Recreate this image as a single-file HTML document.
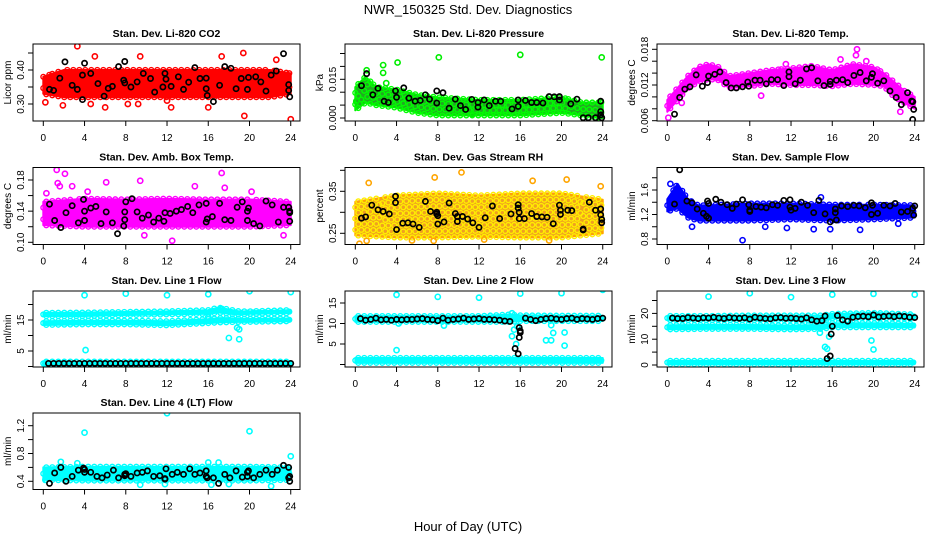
<!DOCTYPE html>
<html><head><meta charset="utf-8">
<style>
html,body{margin:0;padding:0;background:#fff;}
svg{display:block;font-family:"Liberation Sans",sans-serif;}
</style></head>
<body>
<svg id="chart" width="936" height="540" viewBox="0 0 936 540" xmlns="http://www.w3.org/2000/svg">
<rect x="0" y="0" width="936" height="540" fill="#fff"/>
<text x="468" y="14" text-anchor="middle" font-size="13">NWR_150325  Std. Dev. Diagnostics</text>
<text x="468" y="531" text-anchor="middle" font-size="13">Hour of Day (UTC)</text>
</svg>
<script>
// ---------- data ----------
const xTicks = [0,4,8,12,16,20,24];

const co2BandH = [0,2,4,6,8,10,12,14,16,18,20,22,24];
const co2Lo = [0.33,0.32,0.32,0.32,0.32,0.32,0.32,0.32,0.32,0.32,0.32,0.32,0.33];
const co2Hi = [0.38,0.40,0.40,0.40,0.40,0.40,0.40,0.40,0.40,0.40,0.40,0.40,0.39];
const co2Out = [[3.3,0.47],[1.9,0.296],[5,0.44],[6,0.29],[9.2,0.30],[9.4,0.44],[12.4,0.29],[16,0.29],[17.3,0.44],[19.4,0.45],[19.5,0.265],[24,0.255],[22.6,0.43],[12,0.31],[8.2,0.30],[4.6,0.30],[0.2,0.305]];
const co2Blk = [[0.6,0.343],[1.0,0.34],[1.6,0.376],[2.1,0.424],[2.8,0.355],[3.3,0.343],[3.8,0.313],[3.8,0.385],[4.0,0.42],[4.6,0.39],[5.3,0.36],[5.9,0.323],[6.3,0.346],[6.7,0.352],[7.3,0.41],[7.8,0.37],[7.9,0.425],[7.9,0.362],[8.5,0.35],[9.1,0.365],[9.7,0.39],[10.4,0.375],[10.8,0.335],[11.6,0.35],[11.8,0.39],[11.9,0.373],[12.4,0.352],[13.1,0.38],[13.6,0.343],[14.1,0.364],[14.7,0.407],[15.2,0.375],[15.8,0.345],[15.8,0.376],[15.9,0.325],[16.5,0.307],[17.1,0.355],[17.6,0.41],[18.2,0.405],[18.7,0.345],[19.2,0.375],[19.8,0.343],[19.9,0.378],[20.6,0.38],[21.1,0.365],[21.6,0.338],[22.1,0.385],[22.6,0.397],[23.3,0.448],[23.8,0.357],[23.8,0.34],[23.9,0.321]];

const presBandH = [0,1,2,4,6,8,12,16,20,22,24];
const presLo = [0.003,0.006,0.005,0.004,0.002,0.001,0.001,0.001,0.002,0.001,0.000];
const presHi = [0.012,0.016,0.012,0.011,0.009,0.008,0.007,0.007,0.008,0.006,0.006];
const presOut = [[1.1,0.0185],[2.7,0.0205],[2.7,0.0175],[3.0,0.0135],[4.1,0.0215],[8.1,0.0235],[16.0,0.0245],[23.9,0.0235],[11.3,0.0015],[0.1,0.0065]];
const presBlk = [[0.6,0.0125],[1.1,0.0172],[1.7,0.009],[2.2,0.0115],[2.8,0.0065],[3.2,0.006],[3.9,0.0105],[4.0,0.008],[4.7,0.0117],[5.2,0.0077],[5.8,0.0065],[6.3,0.0068],[6.8,0.009],[7.2,0.0073],[7.9,0.0105],[7.9,0.0058],[8.5,0.0098],[9.1,0.0038],[9.7,0.0073],[10.2,0.0048],[10.7,0.0033],[11.3,0.0072],[11.9,0.006],[11.9,0.0042],[12.5,0.007],[13.0,0.0048],[13.6,0.0065],[14.1,0.0065],[15.2,0.0035],[15.8,0.007],[15.8,0.0045],[16.5,0.0068],[17.1,0.006],[17.6,0.006],[18.2,0.0058],[18.8,0.0083],[19.3,0.0082],[19.8,0.0083],[19.8,0.007],[20.9,0.0055],[21.5,0.0073],[22.1,0.0001],[22.6,0.0001],[23.3,0.0001],[23.8,0.0065],[23.8,0.0025],[23.9,0.0001],[23.8,0.0012]];

const tempBandH = [0,1,2,3,4,5,6,8,10,12,14,16,18,20,21,22,23,24];
const tempLo = [0.0075,0.0095,0.0115,0.0125,0.0130,0.0128,0.0115,0.0118,0.0122,0.0120,0.0120,0.0118,0.0122,0.0120,0.0118,0.0100,0.0090,0.0080];
const tempHi = [0.0095,0.0115,0.0135,0.0150,0.0155,0.0150,0.0135,0.0140,0.0145,0.0148,0.0152,0.0145,0.0155,0.0150,0.0140,0.0125,0.0110,0.0100];
const tempOut = [[0.1,0.0065],[11.5,0.0155],[16.8,0.0163],[18.3,0.0170],[18.4,0.0180],[19.3,0.0160],[22.6,0.0075],[9.1,0.0102],[1.4,0.0090]];
const tempBlk = [[0.7,0.0071],[1.2,0.0099],[1.7,0.0113],[2.2,0.0117],[2.8,0.0137],[3.4,0.0118],[3.9,0.0124],[4.0,0.0135],[4.6,0.0138],[5.1,0.0142],[5.7,0.0124],[6.2,0.0115],[6.7,0.0115],[7.3,0.0117],[7.8,0.0125],[7.9,0.0118],[8.5,0.0128],[9.0,0.0128],[9.6,0.0122],[10.1,0.0129],[10.7,0.0129],[11.3,0.0119],[11.8,0.0134],[11.8,0.0142],[12.4,0.0122],[12.9,0.0128],[13.5,0.0147],[14.0,0.0149],[14.6,0.0127],[15.2,0.0119],[15.8,0.0121],[15.8,0.0126],[16.4,0.0128],[17.0,0.0129],[17.5,0.0124],[18.1,0.0136],[18.7,0.0141],[19.3,0.0127],[19.8,0.0133],[19.9,0.0139],[20.4,0.0123],[21.0,0.0127],[21.6,0.0110],[22.2,0.0099],[22.7,0.0087],[23.3,0.0107],[23.7,0.0093],[23.8,0.0092],[23.9,0.0079],[23.8,0.0062]];

const ambBandH = [0,4,8,12,16,20,24];
const ambLo = [0.122,0.120,0.120,0.120,0.120,0.120,0.122];
const ambHi = [0.152,0.156,0.155,0.156,0.155,0.155,0.152];
const ambOut = [[1.3,0.193],[2.1,0.188],[1.4,0.176],[1.6,0.172],[2.8,0.172],[6.1,0.177],[9.4,0.179],[9.8,0.109],[12.5,0.102],[17.3,0.189],[23.3,0.109],[14.7,0.172],[17.6,0.170],[0.3,0.163],[4.3,0.165],[20.2,0.165]];
const ambBlk = [[0.6,0.149],[1.1,0.128],[1.7,0.119],[2.2,0.138],[2.8,0.147],[3.4,0.125],[3.9,0.155],[4.0,0.140],[4.0,0.128],[4.6,0.144],[5.1,0.146],[5.6,0.124],[6.1,0.139],[6.7,0.125],[7.2,0.111],[7.8,0.121],[7.9,0.129],[7.9,0.139],[8.0,0.152],[8.6,0.156],[9.1,0.139],[9.6,0.131],[10.2,0.135],[10.7,0.126],[11.2,0.131],[11.7,0.127],[11.8,0.138],[12.3,0.137],[12.9,0.140],[13.4,0.142],[14.0,0.146],[14.5,0.138],[15.1,0.148],[15.8,0.150],[15.9,0.130],[15.8,0.126],[16.4,0.133],[17.1,0.150],[17.6,0.129],[18.2,0.128],[18.8,0.145],[19.3,0.152],[19.8,0.140],[19.8,0.128],[19.9,0.144],[20.4,0.124],[21.0,0.121],[21.6,0.153],[22.2,0.148],[22.8,0.126],[23.3,0.145],[23.8,0.145],[23.9,0.140],[23.9,0.138],[23.9,0.127]];

const rhBandH = [0,4,8,12,16,20,24];
const rhLo = [0.245,0.240,0.240,0.242,0.240,0.240,0.250];
const rhHi = [0.325,0.340,0.345,0.340,0.345,0.345,0.330];
const rhOut = [[1.3,0.370],[7.7,0.383],[10.3,0.395],[17.2,0.375],[20.5,0.378],[7.6,0.232],[5.5,0.233],[12.5,0.235],[18.8,0.233],[23.8,0.362],[0.4,0.225],[1.1,0.232]];
const rhBlk = [[0.6,0.286],[1.0,0.289],[1.6,0.317],[2.2,0.306],[2.7,0.302],[3.3,0.296],[3.9,0.338],[3.9,0.323],[4.0,0.259],[4.6,0.274],[5.1,0.275],[5.6,0.272],[6.2,0.264],[6.8,0.326],[7.3,0.302],[7.9,0.300],[7.9,0.296],[8.0,0.292],[8.0,0.272],[8.6,0.277],[9.1,0.322],[9.7,0.297],[9.9,0.290],[9.9,0.278],[10.4,0.290],[10.9,0.284],[11.4,0.275],[12.0,0.264],[12.6,0.287],[13.3,0.315],[14.0,0.285],[15.1,0.296],[15.8,0.318],[15.8,0.310],[15.9,0.300],[15.9,0.285],[16.4,0.285],[17.1,0.297],[17.6,0.290],[18.1,0.289],[18.6,0.288],[19.2,0.273],[19.8,0.317],[19.9,0.305],[19.9,0.295],[20.6,0.305],[21.0,0.304],[22.1,0.260],[22.1,0.258],[22.7,0.324],[23.3,0.305],[23.8,0.308],[23.8,0.294],[23.9,0.283],[23.9,0.275]];

const sfBandH = [0,1,2,3,4,8,12,16,20,24];
const sfLo = [1.25,1.30,1.15,1.10,1.10,1.10,1.12,1.10,1.12,1.15];
const sfHi = [1.45,1.70,1.45,1.35,1.35,1.38,1.38,1.36,1.36,1.35];
const sfOut = [[0.3,1.70],[7.3,0.78],[2.4,1.00],[11.6,0.98],[14.9,1.48],[18.7,0.95],[22.4,1.05],[14.2,0.96],[15.8,0.96],[9.5,1.00]];
const sfBlk = [[0.7,1.37],[1.2,1.93],[1.9,1.42],[2.4,1.39],[2.9,1.29],[3.5,1.22],[3.8,1.17],[4.0,1.14],[3.9,1.42],[4.0,1.38],[4.7,1.45],[5.2,1.40],[5.8,1.36],[6.3,1.30],[6.7,1.37],[7.3,1.44],[7.9,1.36],[8.0,1.27],[8.0,1.25],[8.6,1.33],[9.1,1.32],[9.6,1.31],[10.2,1.36],[10.7,1.35],[11.3,1.43],[11.9,1.44],[11.9,1.32],[12.0,1.27],[12.4,1.30],[13.0,1.40],[13.6,1.35],[14.2,1.23],[14.7,1.43],[15.3,1.21],[15.8,1.08],[16.4,1.11],[16.3,1.23],[16.3,1.29],[16.9,1.34],[17.5,1.33],[18.1,1.35],[18.6,1.34],[19.2,1.31],[19.8,1.39],[19.9,1.35],[19.8,1.20],[20.4,1.22],[21.0,1.35],[21.6,1.34],[22.1,1.38],[22.7,1.24],[23.3,1.25],[23.8,1.30],[23.9,1.19],[24.0,1.34]];

const l1BandH = [0,4,8,12,16,17,18,19,20,24];
const l1UpLo = [16.3,16.3,16.6,16.8,17.0,17.4,17.0,16.8,17.0,17.2];
const l1UpHi = [17.3,17.4,17.6,17.8,18.2,19.0,18.4,17.8,17.8,18.2];
const l1MdLo = [13.4,13.6,13.6,13.3,14.0,14.2,14.3,14.4,14.4,14.6];
const l1MdHi = [14.6,14.8,14.8,14.6,15.3,15.6,15.6,15.4,15.4,15.5];
const l1BtLo = [0.4,0.4,0.4,0.4,0.4,0.4,0.4,0.4,0.4,0.4];
const l1BtHi = [1.6,1.6,1.6,1.6,1.6,1.6,1.6,1.6,1.6,1.6];
const l1Out = [[4.0,23.0],[8.0,23.5],[12.0,23.0],[16.0,23.3],[20.0,24.3],[24.0,24.0],[4.1,5.3],[17.3,18.6],[18.8,12.5],[19.0,12.0],[18.0,9.2],[19.0,8.8],[16.0,16.0],[0.2,1.0]];
const l1BlkH = [0.5,1,1.5,2,2.5,3,3.5,4,4.5,5,5.5,6,6.5,7,7.5,8,8.5,9,9.5,10,10.5,11,11.5,12,12.5,13,13.5,14,14.5,15,15.5,16,16.5,17,17.5,18,18.5,19,19.5,20,20.5,21,21.5,22,22.5,23,23.5,24];
const l1BlkV = [1.0,1.0,1.0,1.0,1.0,1.0,1.0,1.0,1.0,1.0,1.0,1.0,1.0,1.0,1.0,1.0,1.0,1.0,1.0,1.0,1.0,1.0,1.0,1.0,1.0,1.0,1.0,1.0,1.0,1.0,1.0,1.0,1.0,1.0,1.0,1.0,1.0,1.0,1.0,1.0,1.0,1.0,1.0,1.0,1.0,1.0,1.0,1.0];

const l2BandH = [0,4,8,12,15,16,20,24];
const l2UpLo = [10.4,10.4,10.4,10.4,10.4,10.6,10.6,10.6];
const l2UpHi = [11.8,11.8,11.8,11.8,12.2,12.0,11.9,11.9];
const l2BtLo = [0.4,0.4,0.4,0.4,0.4,0.4,0.4,0.4];
const l2BtHi = [1.6,1.6,1.6,1.6,1.6,1.6,1.6,1.6];
const l2Out = [[4,17],[8,16.5],[12,16.3],[16,17.3],[20,17.4],[24,18.2],[4,3.5],[15.2,6.9],[15.6,5.0],[18.5,5.9],[19.0,5.9],[19.2,7.7],[20.3,7.8],[20.3,4.6],[15.2,12.5],[8.6,9.5],[4.2,10.0],[15.4,8.5],[15.7,9.3],[19.0,9.6]];
const l2BlkH = [0.5,1,1.5,2,2.5,3,3.5,4,4.5,5,5.5,6,6.5,7,7.5,8,8.5,9,9.5,10,10.5,11,11.5,12,12.5,13,13.5,14,14.5,15,15.5,15.8,15.9,16,16,15.9,16.5,17,17.5,18,18.5,19,19.5,20,20.5,21,21.5,22,22.5,23,23.5,24];
const l2BlkV = [11.2,10.8,11.0,11.3,10.9,11.0,10.8,11.0,10.9,11.0,11.0,11.1,11.2,11.0,10.9,10.7,11.3,10.8,11.0,11.1,11.3,11.0,11.1,11.2,11.0,11.0,10.9,10.8,10.6,10.5,3.9,2.6,9.0,8.2,7.8,6.6,11.3,11.0,10.7,11.0,11.2,11.3,11.1,11.0,11.2,11.3,11.0,11.2,11.1,11.0,11.2,11.3];

const l3BandH = [0,4,8,12,15,16,20,24];
const l3UpLo = [17.4,17.4,17.4,17.4,17.0,18.0,18.2,18.0];
const l3UpHi = [19.0,19.0,19.2,19.2,19.2,19.8,20.2,19.6];
const l3MdLo = [13.8,14.0,14.0,13.8,14.0,14.6,14.6,14.6];
const l3MdHi = [15.4,15.5,15.5,15.3,15.5,16.2,16.2,16.0];
const l3BtLo = [0.4,0.4,0.4,0.4,0.4,0.4,0.4,0.4];
const l3BtHi = [1.6,1.6,1.6,1.6,1.6,1.6,1.6,1.6];
const l3Out = [[4,26.5],[8,27.8],[12,26.3],[16,27.3],[20,27.6],[24,27.3],[19.8,9.5],[20.0,6.0],[15.3,7.0],[15.5,6.3],[14.8,12.5],[15.7,11.0]];
const l3BlkH = [0.5,1,1.5,2,2.5,3,3.5,4,4.5,5,5.5,6,6.5,7,7.5,8,8.5,9,9.5,10,10.5,11,11.5,12,12.5,13,13.5,14,14.5,15,15.3,15.5,15.8,15.9,16,16.5,17,17.5,18,18.5,19,19.5,20,20.5,21,21.5,22,22.5,23,23.5,24];
const l3BlkV = [18.2,18.0,18.0,18.4,18.2,18.0,18.3,18.2,18.5,18.2,18.0,18.4,18.2,18.1,18.3,17.8,18.5,18.2,18.0,17.9,18.3,18.4,18.1,18.2,18.0,17.8,18.3,17.5,17.0,17.2,19.0,2.5,3.5,12.0,15.0,19.2,17.5,17.0,18.5,18.8,18.9,18.7,19.4,18.6,18.8,19.0,18.7,19.0,18.8,18.5,18.4];

const l4BandH = [0,4,8,12,16,20,24];
const l4Lo = [0.42,0.41,0.41,0.41,0.41,0.41,0.42];
const l4Hi = [0.60,0.61,0.61,0.61,0.61,0.61,0.60];
const l4Out = [[4,1.1],[12,1.38],[20,1.12],[24,0.76],[22.1,0.33],[9.4,0.35],[16.3,0.35],[1.7,0.68],[16,0.67],[17,0.67],[3.3,0.66],[0.2,0.42],[11.8,0.36],[18,0.36]];
const l4Blk = [[0.6,0.37],[1.1,0.52],[1.7,0.60],[2.2,0.40],[2.8,0.47],[3.4,0.56],[3.9,0.59],[4.0,0.53],[4.0,0.57],[4.6,0.53],[5.2,0.47],[5.7,0.45],[6.2,0.49],[6.8,0.56],[7.3,0.45],[7.9,0.50],[7.9,0.48],[8.0,0.51],[8.5,0.47],[9.1,0.52],[9.6,0.53],[10.1,0.55],[10.7,0.47],[11.3,0.48],[11.8,0.44],[11.8,0.43],[11.9,0.58],[12.5,0.50],[13.0,0.53],[13.6,0.50],[14.2,0.58],[14.7,0.50],[15.2,0.52],[15.8,0.55],[15.8,0.47],[15.9,0.45],[16.5,0.45],[17.0,0.37],[17.6,0.50],[18.1,0.45],[18.7,0.55],[19.3,0.46],[19.8,0.47],[19.8,0.53],[19.9,0.55],[20.4,0.45],[21.0,0.50],[21.6,0.56],[22.2,0.50],[22.7,0.56],[23.3,0.63],[23.8,0.60],[23.8,0.45],[23.9,0.40],[23.9,0.47]];

// ---------- drawing ----------
const NS = 'http://www.w3.org/2000/svg';
const svg = document.getElementById('chart');
const rowTop = [44, 167.5, 291, 413];
const rowBot = [121, 244.5, 367, 489.5];

function mk(tag, parent) { const e = document.createElementNS(NS, tag); parent.appendChild(e); return e; }
function interp(hs, vs, h) {
  for (let i = 0; i < hs.length - 1; i++) {
    if (h >= hs[i] && h <= hs[i+1]) { const t = (h - hs[i]) / (hs[i+1] - hs[i] || 1); return vs[i] + t * (vs[i+1] - vs[i]); }
  }
  return h < hs[0] ? vs[0] : vs[vs.length - 1];
}

function drawPanel(p) {
  const g = mk('g', svg);
  
  
  const ox = 312 * p.col, top = rowTop[p.row], bot = rowBot[p.row];
  const xS = h => 43.3 + ox + h * 10.31;
  const k = (p.p2 - p.p1) / (p.v2 - p.v1);
  const yS = v => p.p1 + (v - p.v1) * k;
  const clipId = 'clip' + p.name;
  const cp = mk('clipPath', g); cp.setAttribute('id', clipId);
  const cr = mk('rect', cp); cr.setAttribute('x', 33 + ox); cr.setAttribute('y', top); cr.setAttribute('width', 267); cr.setAttribute('height', bot - top);
  const plot = mk('g', g); plot.setAttribute('clip-path', 'url(#' + clipId + ')');
  
  

  (p.bands || []).forEach(b => {
    const [hs, lo, hi] = b;
    let pts = hs.map((h, i) => xS(h) + ',' + yS(hi[i]));
    for (let i = hs.length - 1; i >= 0; i--) pts.push(xS(hs[i]) + ',' + yS(lo[i]));
    const poly = mk('polygon', plot);
    poly.setAttribute('points', pts.join(' '));
    poly.setAttribute('fill', p.fill);
    poly.setAttribute('stroke', p.color); poly.setAttribute('stroke-width', 2); poly.setAttribute('stroke-linejoin', 'round');
    
    
    for (let px = xS(hs[0]); px <= xS(hs[hs.length-1]); px += 3) {
      const h = (px - 43.3 - ox) / 10.31;
      const a = yS(interp(hs, lo, h)), z = yS(interp(hs, hi, h));
      const n = Math.max(2, Math.round(Math.abs(a - z) / 6));
      for (let j = 0; j <= n; j++) {
        if ((j + Math.round(px)) % 2) continue;
        const c = mk('circle', plot);
        c.setAttribute('cx', px); c.setAttribute('cy', a + (z - a) * j / n); c.setAttribute('r', 2.4);
        c.setAttribute('fill', 'none'); c.setAttribute('stroke', p.tex || p.color); c.setAttribute('stroke-width', 1.4);
        
        
      }
    }
  });
  (p.out || []).forEach(d => {
    const c = mk('circle', plot);
    c.setAttribute('cx', xS(d[0])); c.setAttribute('cy', yS(d[1])); c.setAttribute('r', 2.6);
    c.setAttribute('fill', 'none'); c.setAttribute('stroke', p.color); c.setAttribute('stroke-width', 1.6);
    
    
  });
  const blk = p.blk || p.blkH.map((h, i) => [h, p.blkV[i]]);
  blk.forEach(d => {
    const c = mk('circle', plot);
    c.setAttribute('cx', xS(d[0])); c.setAttribute('cy', yS(d[1])); c.setAttribute('r', 2.6);
    c.setAttribute('fill', 'none'); c.setAttribute('stroke', '#000'); c.setAttribute('stroke-width', 1.7);
    
    
  });
  const box = mk('rect', g);
  box.setAttribute('x', 33 + ox); box.setAttribute('y', top); box.setAttribute('width', 267); box.setAttribute('height', bot - top);
  box.setAttribute('fill', 'none'); box.setAttribute('stroke', '#000'); box.setAttribute('stroke-width', 1);
  
  
  const t = mk('text', g);
  t.setAttribute('x', 166.5 + ox); t.setAttribute('y', top - 7); t.setAttribute('text-anchor', 'middle');
  t.setAttribute('font-size', 10.5); t.setAttribute('font-weight', 'bold');
  t.textContent = p.title;
  
  
  const yl = mk('text', g);
  const ylx = 11 + ox, yly = (top + bot) / 2;
  yl.setAttribute('transform', 'translate(' + ylx + ',' + yly + ') rotate(-90)');
  yl.setAttribute('text-anchor', 'middle'); yl.setAttribute('font-size', 10);
  yl.textContent = p.ylab;
  
  
  const xa = mk('line', g);
  xa.setAttribute('x1', xS(0)); xa.setAttribute('x2', xS(24)); xa.setAttribute('y1', bot); xa.setAttribute('y2', bot);
  xa.setAttribute('stroke', '#000');
  
  
  xTicks.forEach(v => {
    const l = mk('line', g);
    l.setAttribute('x1', xS(v)); l.setAttribute('x2', xS(v)); l.setAttribute('y1', bot); l.setAttribute('y2', bot + 5);
    l.setAttribute('stroke', '#000');
    
    
    const tl = mk('text', g);
    tl.setAttribute('x', xS(v)); tl.setAttribute('y', bot + 20); tl.setAttribute('text-anchor', 'middle'); tl.setAttribute('font-size', 10);
    tl.textContent = v;
    
    
  });
  const ya = mk('line', g);
  ya.setAttribute('x1', 33 + ox); ya.setAttribute('x2', 33 + ox);
  ya.setAttribute('y1', Math.max(top, yS(p.yt[p.yt.length-1]))); ya.setAttribute('y2', Math.min(bot, yS(p.yt[0])));
  ya.setAttribute('stroke', '#000');
  
  
  p.yt.forEach((v, i) => {
    const y = yS(v);
    if (y < top - 1 || y > bot + 1) return;
    const l = mk('line', g);
    l.setAttribute('x1', 28 + ox); l.setAttribute('x2', 33 + ox); l.setAttribute('y1', y); l.setAttribute('y2', y);
    l.setAttribute('stroke', '#000');
    
    
    if (p.yl[i] !== '') {
      const tl = mk('text', g);
      tl.setAttribute('transform', 'translate(' + (24 + ox) + ',' + y + ') rotate(-90)');
      tl.setAttribute('text-anchor', 'middle'); tl.setAttribute('font-size', 10);
      tl.textContent = p.yl[i];
      
      
    }
  });
}

const panels = [
 {name:'panel-co2', col:0, row:0, title:'Stan. Dev. Li-820 CO2', ylab:'Licor ppm', v1:0.30, p1:104, v2:0.40, p2:70, yt:[0.30,0.35,0.40,0.45], yl:['0.30','','0.40',''], color:'#ff0000', fill:'#ff0000', bands:[[co2BandH,co2Lo,co2Hi]], out:co2Out, blk:co2Blk},
 {name:'panel-pressure', col:1, row:0, title:'Stan. Dev. Li-820 Pressure', ylab:'kPa', v1:0, p1:118, v2:0.015, p2:79.3, yt:[0,0.005,0.010,0.015,0.020,0.025], yl:['0.000','','','0.015','',''], color:'#00ee00', fill:'#22aa22', tex:'#00ff00', bands:[[presBandH,presLo,presHi]], out:presOut, blk:presBlk},
 {name:'panel-li820-temp', col:2, row:0, title:'Stan. Dev. Li-820 Temp.', ylab:'degrees C', v1:0.006, p1:120.7, v2:0.018, p2:49.3, yt:[0.006,0.008,0.010,0.012,0.014,0.016,0.018], yl:['0.006','','','0.012','','','0.018'], color:'#ff00ff', fill:'#ff00ff', bands:[[tempBandH,tempLo,tempHi]], out:tempOut, blk:tempBlk},
 {name:'panel-amb-box-temp', col:0, row:1, title:'Stan. Dev. Amb. Box Temp.', ylab:'degrees C', v1:0.10, p1:242.3, v2:0.18, p2:180, yt:[0.10,0.12,0.14,0.16,0.18], yl:['0.10','','0.14','','0.18'], color:'#ff00ff', fill:'#ff00ff', bands:[[ambBandH,ambLo,ambHi]], out:ambOut, blk:ambBlk},
 {name:'panel-gas-rh', col:1, row:1, title:'Stan. Dev. Gas Stream RH', ylab:'percent', v1:0.25, p1:233.3, v2:0.35, p2:191.3, yt:[0.25,0.30,0.35,0.40], yl:['0.25','','0.35',''], color:'#ffa500', fill:'#f0a020', tex:'#ffee00', bands:[[rhBandH,rhLo,rhHi]], out:rhOut, blk:rhBlk},
 {name:'panel-sample-flow', col:2, row:1, title:'Stan. Dev. Sample Flow', ylab:'ml/min', v1:0.8, p1:239, v2:1.6, p2:190, yt:[0.8,1.0,1.2,1.4,1.6,1.8], yl:['0.8','','1.2','','1.6',''], color:'#0000ff', fill:'#0000ff', bands:[[sfBandH,sfLo,sfHi]], out:sfOut, blk:sfBlk},
 {name:'panel-line1-flow', col:0, row:2, title:'Stan. Dev. Line 1 Flow', ylab:'ml/min', v1:0, p1:366.5, v2:15, p2:320, yt:[0,5,10,15,20], yl:['','5','','15',''], color:'#00ffff', fill:'#00ffff', bands:[[l1BandH,l1UpLo,l1UpHi],[l1BandH,l1MdLo,l1MdHi],[l1BandH,l1BtLo,l1BtHi]], out:l1Out, blkH:l1BlkH, blkV:l1BlkV},
 {name:'panel-line2-flow', col:1, row:2, title:'Stan. Dev. Line 2 Flow', ylab:'ml/min', v1:0, p1:364.5, v2:15, p2:303, yt:[0,5,10,15], yl:['','5','10','15'], color:'#00ffff', fill:'#00ffff', bands:[[l2BandH,l2UpLo,l2UpHi],[l2BandH,l2BtLo,l2BtHi]], out:l2Out, blkH:l2BlkH, blkV:l2BlkV},
 {name:'panel-line3-flow', col:2, row:2, title:'Stan. Dev. Line 3 Flow', ylab:'ml/min', v1:0, p1:365, v2:20, p2:313.4, yt:[0,5,10,15,20,25], yl:['0','','10','','20',''], color:'#00ffff', fill:'#00ffff', bands:[[l3BandH,l3UpLo,l3UpHi],[l3BandH,l3MdLo,l3MdHi],[l3BandH,l3BtLo,l3BtHi]], out:l3Out, blkH:l3BlkH, blkV:l3BlkV},
 {name:'panel-line4-flow', col:0, row:3, title:'Stan. Dev. Line 4 (LT) Flow', ylab:'ml/min', v1:0.4, p1:481.3, v2:1.2, p2:425.7, yt:[0.4,0.6,0.8,1.0,1.2], yl:['0.4','','0.8','','1.2'], color:'#00ffff', fill:'#00ffff', bands:[[l4BandH,l4Lo,l4Hi]], out:l4Out, blk:l4Blk}
];
panels.forEach(drawPanel);
</script>
</body></html>
